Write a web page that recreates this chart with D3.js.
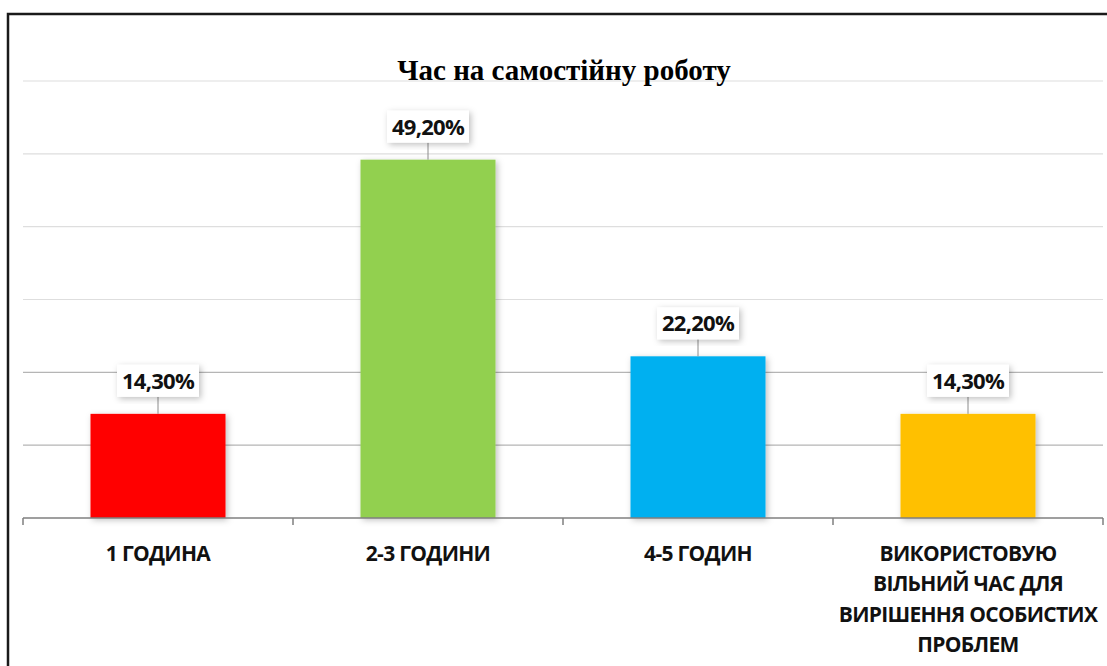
<!DOCTYPE html>
<html>
<head>
<meta charset="utf-8">
<script src="https://cdn.jsdelivr.net/npm/d3@7"></script>
<style>
  body { margin: 0; background: #fff; }
  svg { display: block; }
</style>
</head>
<body>
<div id="chart"></div>
<script>
// chart data
var categories = ["1 ГОДИНА", "2-3 ГОДИНИ", "4-5 ГОДИН", "ВИКОРИСТОВУЮ ВІЛЬНИЙ ЧАС ДЛЯ ВИРІШЕННЯ ОСОБИСТИХ ПРОБЛЕМ"];
var categoryLines = [["1 ГОДИНА"], ["2-3 ГОДИНИ"], ["4-5 ГОДИН"], ["ВИКОРИСТОВУЮ", "ВІЛЬНИЙ ЧАС ДЛЯ", "ВИРІШЕННЯ ОСОБИСТИХ", "ПРОБЛЕМ"]];
var values = [14.3, 49.2, 22.2, 14.3];
var valueLabels = ["14,30%", "49,20%", "22,20%", "14,30%"];
var barColors = ["#ff0000", "#92d050", "#00b0f0", "#ffc000"];
var gridTicks = [10, 20, 30, 40, 50, 60];
var chartTitle = "Час на самостійну роботу";

var W = 1107, H = 666;
var svg = d3.select("#chart").append("svg")
    .attr("width", W).attr("height", H);

// drop shadow for bars and label boxes
var defs = svg.append("defs");
var f = defs.append("filter").attr("id", "shadow")
    .attr("x", "-20%").attr("y", "-20%").attr("width", "140%").attr("height", "140%");
f.append("feDropShadow").attr("dx", 2).attr("dy", 2).attr("stdDeviation", 3)
    .attr("flood-color", "#000").attr("flood-opacity", 0.25);

// outer frame (cut off at right/bottom)
svg.append("rect")
    .attr("x", 8).attr("y", 14)
    .attr("width", W + 20).attr("height", H + 20)
    .attr("fill", "none").attr("stroke", "#1a1a1a").attr("stroke-width", 2.5);

var x = d3.scaleBand().domain(categories).range([23, 1103])
    .paddingInner(0.5).paddingOuter(0.25);
var y = d3.scaleLinear().domain([0, 60]).range([518, 81]);

// gridlines
svg.append("g").selectAll("line").data(gridTicks).join("line")
    .attr("x1", 23).attr("x2", 1103)
    .attr("y1", function(d) { return y(d); })
    .attr("y2", function(d) { return y(d); })
    .attr("stroke", function(d) { return d <= 20 ? "#b5b5b5" : "#dedede"; })
    .attr("stroke-width", 1.2);

// title
svg.append("text")
    .attr("x", 564).attr("y", 80)
    .attr("text-anchor", "middle")
    .style("font-family", "'Liberation Serif', 'Times New Roman', serif")
    .style("font-weight", "bold")
    .style("font-size", "29px")
    .text(chartTitle);

// bars
svg.append("g").selectAll("rect").data(values).join("rect")
    .attr("x", function(d, i) { return x(categories[i]); })
    .attr("y", function(d) { return y(d); })
    .attr("width", x.bandwidth())
    .attr("height", function(d) { return y(0) - y(d); })
    .attr("fill", function(d, i) { return barColors[i]; })
    .attr("filter", "url(#shadow)");

// x axis
var xAxis = svg.append("g").attr("transform", "translate(0," + y(0) + ")");
xAxis.append("line").attr("x1", 23).attr("x2", 1103)
    .attr("stroke", "#7f7f7f").attr("stroke-width", 1.5);
var tickPos = categories.map(function(c) { return x(c) - x.step() * 0.25; });
tickPos.push(1103);
xAxis.selectAll("line.tick").data(tickPos).join("line")
    .attr("class", "tick")
    .attr("x1", function(d) { return d; }).attr("x2", function(d) { return d; })
    .attr("y1", 0).attr("y2", 7)
    .attr("stroke", "#7f7f7f").attr("stroke-width", 1.5);

// category labels
var catG = svg.append("g").selectAll("text").data(categories).join("text")
    .attr("text-anchor", "middle")
    .style("font-family", "'Open Sans', sans-serif")
    .style("font-weight", "bold")
    .style("font-size", "21px")
    .style("letter-spacing", "-0.7px")
    .attr("fill", "#111");
catG.each(function(c, i) {
    var t = d3.select(this);
    categoryLines[i].forEach(function(line, j) {
        t.append("tspan")
            .attr("x", x(c) + x.bandwidth() / 2)
            .attr("y", 561 + j * 30.3)
            .text(line);
    });
});

// value labels with leader lines
var lab = svg.append("g").selectAll("g").data(values).join("g")
    .attr("transform", function(d, i) {
        return "translate(" + (x(categories[i]) + x.bandwidth() / 2) + "," + y(d) + ")";
    });
lab.append("line")
    .attr("x1", 0).attr("x2", 0).attr("y1", 0).attr("y2", -17)
    .attr("stroke", "#8c8c8c").attr("stroke-width", 1);
lab.append("rect")
    .attr("x", -41).attr("y", -49).attr("width", 82).attr("height", 32)
    .attr("fill", "#fff")
    .attr("filter", "url(#shadow)");
lab.append("text")
    .attr("x", 0).attr("y", -25)
    .attr("text-anchor", "middle")
    .style("font-family", "'Open Sans', sans-serif")
    .style("font-weight", "bold")
    .style("font-size", "22px")
    .style("letter-spacing", "-0.7px")
    .attr("fill", "#111")
    .text(function(d, i) { return valueLabels[i]; });
</script>
</body>
</html>
